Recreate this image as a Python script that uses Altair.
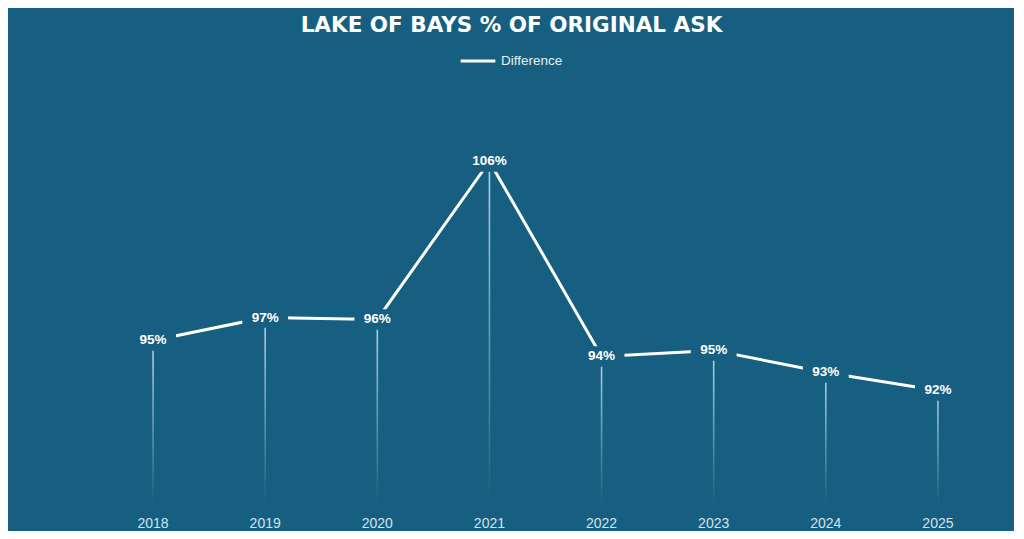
import altair as alt
import pandas as pd

years = ["2018", "2019", "2020", "2021", "2022", "2023", "2024", "2025"]
values = [95.06, 96.46, 96.34, 106.0, 94.08, 94.45, 93.10, 92.0]
labels = ["95%", "97%", "96%", "106%", "94%", "95%", "93%", "92%"]
series = ["Difference"] * len(years)

BG = "#175F80"
Y_MIN, Y_MAX = 85, 110

df = pd.DataFrame({"year": years, "value": values, "label": labels,
                   "series": series, "base": [Y_MIN] * len(years)})

x = alt.X("year:O", title=None,
          scale=alt.Scale(paddingInner=0, paddingOuter=0),
          axis=alt.Axis(labelAngle=0, domain=False, ticks=False, grid=False,
                        labelColor="#cfe3ee", labelFontSize=14,
                        labelFont="Liberation Sans", labelPadding=11))
y = alt.Y("value:Q", title=None,
          scale=alt.Scale(domain=[Y_MIN, Y_MAX], zero=False, nice=False),
          axis=None)

base = alt.Chart(df).encode(x=x)

drops = base.mark_bar(size=1.6, fill=alt.Gradient(
    gradient="linear",
    stops=[alt.GradientStop(color="#b5d6e6", offset=0),
           alt.GradientStop(color=BG, offset=1)],
    x1=0, x2=0, y1=0, y2=1)).encode(y=y, y2="base:Q")

line = base.mark_line(strokeWidth=3).encode(
    y=y,
    color=alt.Color("series:N", title=None,
                    scale=alt.Scale(range=["#ffffff"]),
                    legend=alt.Legend(orient="none", legendX=362, legendY=-54,
                                      symbolType="stroke", symbolSize=1200,
                                      symbolStrokeWidth=3, labelColor="#e6f0f5",
                                      labelFontSize=13.5, labelFont="Liberation Sans",
                                      labelOffset=4)))

boxes = base.mark_point(
    shape="M-1,-0.45L1,-0.45L1,0.45L-1,0.45Z", filled=True, fill=BG,
    opacity=1, size=2100, strokeWidth=0).encode(y=y)

text = base.mark_text(color="#ffffff", fontSize=13.5, fontWeight="bold",
                      font="Liberation Sans", baseline="middle").encode(
    y=y, text="label:N")

chart = alt.layer(line, drops, boxes, text).properties(
    width=897, height=409,
    background=BG,
    padding={"left": 89, "top": 88, "right": 20, "bottom": 26},
    autosize=alt.AutoSizeParams(type="none"),
    title=alt.TitleParams("LAKE OF BAYS % OF ORIGINAL ASK", color="#ffffff",
                          fontSize=21.5, font="DejaVu Sans", fontWeight="bold",
                          anchor="middle", dx=-34, offset=6)
).configure_view(strokeWidth=0, stroke="transparent").configure_title(
    limit=0).configure_legend(labelLimit=0)

chart.save("out.html", embed_options={"renderer": "svg", "actions": False})
